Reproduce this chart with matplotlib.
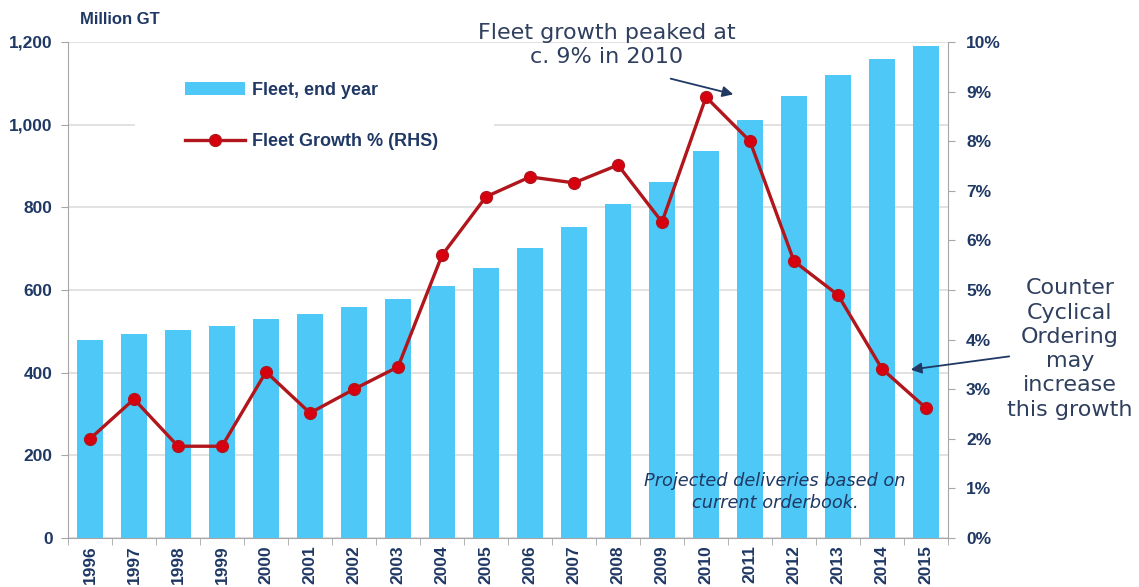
import matplotlib.pyplot as plt
from matplotlib.lines import Line2D
from matplotlib.patches import Patch, Rectangle

years = ['1996', '1997', '1998', '1999', '2000', '2001', '2002', '2003', '2004', '2005',
         '2006', '2007', '2008', '2009', '2010', '2011', '2012', '2013', '2014', '2015']
fleet_gt = [479, 494, 503, 513, 530, 542, 559, 578, 610, 653,
            702, 752, 808, 861, 936, 1011, 1069, 1120, 1159, 1190]
growth_pct = [2.0, 2.8, 1.85, 1.85, 3.35, 2.52, 3.0, 3.45, 5.7, 6.88,
              7.28, 7.16, 7.52, 6.37, 8.89, 8.0, 5.58, 4.9, 3.41, 2.62]
gt_ticks = [0, 200, 400, 600, 800, 1000, 1200]
pct_ticks = [0, 1, 2, 3, 4, 5, 6, 7, 8, 9, 10]

BAR = '#4EC9F7'
LINE = '#B0161C'
DOT = '#D7000F'
NAVY = '#1F3864'
NOTE = '#2F3F5E'
AXIS = '#A6A6A6'
LBL = 'Liberation Sans'

W, H = 1139, 587
fig = plt.figure(figsize=(W / 100, H / 100), dpi=100)
ax = fig.add_axes([68 / W, 1 - 538 / H, 880 / W, 496 / H])

x = list(range(len(years)))
ax.set_axisbelow(True)
ax.bar(x, fleet_gt, width=0.6, color=BAR, zorder=2)
ax.set_xlim(-0.5, len(years) - 0.5)
ax.set_ylim(0, 1200)
ax.set_yticks(gt_ticks)
ax.set_yticklabels([f'{v:,}' for v in gt_ticks])
ax.yaxis.grid(True, color='#DDDDDD', linewidth=1.2)

ax.set_xticks(x)
ax.set_xticklabels(years, rotation=90)
ax.set_xticks([i - 0.5 for i in range(len(years) + 1)], minor=True)
ax.tick_params(axis='x', which='major', length=0, pad=5)
ax.tick_params(axis='x', which='minor', length=5, color=AXIS)
ax.tick_params(axis='y', length=5, color=AXIS, pad=6)

for s in ['top', 'right']:
    ax.spines[s].set_visible(False)
for s in ['left', 'bottom']:
    ax.spines[s].set_color(AXIS)

# white panel behind the legend
ax.add_patch(Rectangle(((135 - 68) / 880, (538 - 166) / 496), (494 - 135) / 880, 106 / 496,
                       transform=ax.transAxes, facecolor='white', edgecolor='none', zorder=1))

ax2 = ax.twinx()
ax2.plot(x, growth_pct, color=LINE, linewidth=2.4, marker='o', markersize=8.5,
         markerfacecolor=DOT, markeredgecolor=LINE, markeredgewidth=1)
ax2.set_ylim(0, 10)
ax2.set_yticks(pct_ticks)
ax2.set_yticklabels([f'{v}%' for v in pct_ticks])
ax2.tick_params(axis='y', length=5, color=AXIS, pad=8)
for s in ['top', 'left', 'bottom']:
    ax2.spines[s].set_visible(False)
ax2.spines['right'].set_color(AXIS)

for lab in ax.get_xticklabels() + ax.get_yticklabels() + ax2.get_yticklabels():
    lab.set_fontfamily(LBL)
    lab.set_fontweight('bold')
    lab.set_fontsize(12.5)
    lab.set_color(NAVY)

fig.text(80 / W, 1 - 20 / H, 'Million GT', fontfamily=LBL, fontweight='bold',
         fontsize=12, color=NAVY, va='center', ha='left')

handles = [Patch(facecolor=BAR, edgecolor='none'),
           Line2D([0], [0], color=LINE, linewidth=2.4, marker='o', markersize=8.5,
                  markerfacecolor=DOT, markeredgecolor=LINE)]
fig.legend(handles, ['Fleet, end year', 'Fleet Growth % (RHS)'],
           loc='upper left', bbox_to_anchor=(185 / W, 1 - 82 / H), frameon=False,
           borderpad=0, borderaxespad=0, handlelength=3.3, handletextpad=0.4,
           labelspacing=1.9, prop={'family': LBL, 'weight': 'bold', 'size': 13},
           labelcolor=NAVY)

fig.text(607 / W, 1 - 45 / H, 'Fleet growth peaked at\nc. 9% in 2010', ha='center',
         va='center', fontsize=16, color=NOTE, linespacing=1.2)
ax2.annotate('', xy=(736 / W, 1 - 95 / H), xytext=(668 / W, 1 - 78 / H),
             xycoords='figure fraction', textcoords='figure fraction',
             arrowprops=dict(arrowstyle='-|>', color=NAVY, lw=1.3, mutation_scale=16))

fig.text(1070 / W, 1 - 349 / H, 'Counter\nCyclical\nOrdering\nmay\nincrease\nthis growth',
         ha='center', va='center', fontsize=16, color=NOTE, linespacing=1.27)
ax2.annotate('', xy=(908 / W, 1 - 370 / H), xytext=(1012 / W, 1 - 356 / H),
             xycoords='figure fraction', textcoords='figure fraction',
             arrowprops=dict(arrowstyle='-|>', color=NAVY, lw=1.3, mutation_scale=16))

fig.text(775 / W, 1 - 492 / H, 'Projected deliveries based on\ncurrent orderbook.',
         ha='center', va='center', fontsize=12.8, style='italic', color=NAVY,
         linespacing=1.25, zorder=5)

fig.savefig('out.png', dpi=100)
